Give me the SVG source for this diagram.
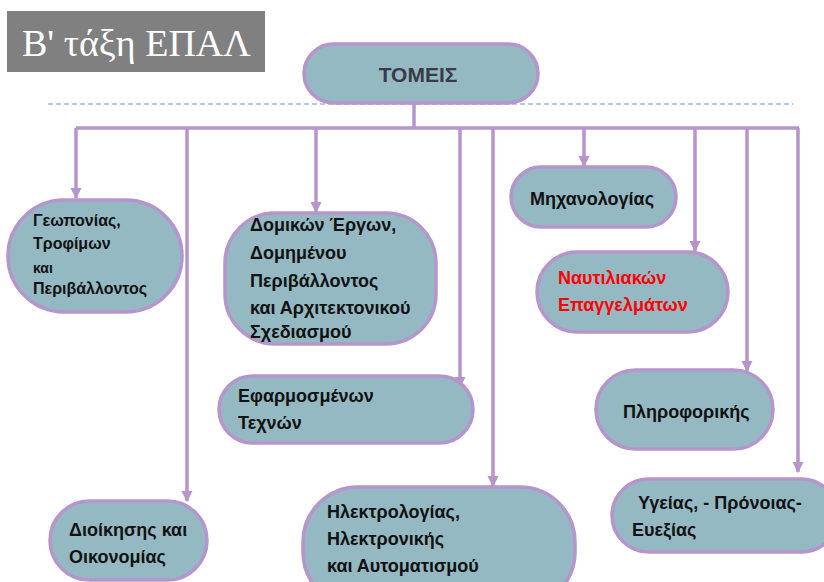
<svg xmlns="http://www.w3.org/2000/svg" width="824" height="582" viewBox="0 0 824 582">
<style>
.node{fill:#94b9c3;stroke:#b595cb;stroke-width:3.5}
.t{font-family:"Liberation Sans",Arial,sans-serif;font-weight:bold;fill:#111;font-size:18px}
.c{fill:none;stroke:#b595cb;stroke-width:3.5}
</style>
<defs>
<marker id="ah" viewBox="0 0 10 10" refX="9" refY="5" markerWidth="3.2" markerHeight="3.2" orient="auto" markerUnits="strokeWidth">
<path d="M0,0 L10,5 L0,10 z" fill="#b595cb"/>
</marker>
</defs>
<rect width="824" height="582" fill="#ffffff"/>
<g id="title">
<rect x="7" y="11" width="258" height="61" fill="#808080"/>
<text x="22" y="56" font-family="'Liberation Serif','Times New Roman',serif" font-size="38" fill="#ffffff">Β' τάξη ΕΠΑΛ</text>
</g>
<line x1="48" y1="104" x2="793" y2="104" stroke="#9bbbdc" stroke-width="1.3" stroke-dasharray="5,3"/>
<g id="connectors">
<path class="c" d="M414,103 V128 M76,128 H799"/>
<path class="c" d="M76,128 V198" marker-end="url(#ah)"/>
<path class="c" d="M187,128 V501" marker-end="url(#ah)"/>
<path class="c" d="M316,128 V212" marker-end="url(#ah)"/>
<path class="c" d="M460,128 V387" marker-end="url(#ah)"/>
<path class="c" d="M493,128 V486" marker-end="url(#ah)"/>
<path class="c" d="M584,128 V166" marker-end="url(#ah)"/>
<path class="c" d="M695,128 V251" marker-end="url(#ah)"/>
<path class="c" d="M747,128 V371" marker-end="url(#ah)"/>
<path class="c" d="M798,128 V472" marker-end="url(#ah)"/>
</g>
<g id="tomeis">
<rect class="node" x="304" y="44" width="234" height="59" rx="29.5"/>
<text x="418" y="82" text-anchor="middle" font-family="'Liberation Sans',Arial,sans-serif" font-weight="bold" font-size="21" fill="#3b3a48">ΤΟΜΕΙΣ</text>
</g>
<g id="geoponias">
<rect class="node" x="8" y="200" width="174" height="112" rx="56"/>
<text class="t" style="font-size:16px"><tspan x="33" y="226">Γεωπονίας,</tspan><tspan x="33" y="249">Τροφίμων</tspan><tspan x="33" y="273" style="font-size:14px">και</tspan><tspan x="33" y="294">Περιβάλλοντος</tspan></text>
</g>
<g id="domikon">
<rect class="node" x="225" y="213" width="211" height="131" rx="50"/>
<text class="t"><tspan x="250" y="231">Δομικών Έργων,</tspan><tspan x="250" y="259">Δομημένου</tspan><tspan x="250" y="287">Περιβάλλοντος</tspan><tspan x="250" y="314">και Αρχιτεκτονικού</tspan><tspan x="250" y="338">Σχεδιασμού</tspan></text>
</g>
<g id="mixanologias">
<rect class="node" x="511" y="167" width="165" height="60" rx="30"/>
<text class="t" x="530" y="205">Μηχανολογίας</text>
</g>
<g id="naftiliakon">
<rect class="node" x="537" y="252" width="191" height="80" rx="40"/>
<text class="t" style="fill:#ff0000"><tspan x="558" y="284">Ναυτιλιακών</tspan><tspan x="558" y="311">Επαγγελμάτων</tspan></text>
</g>
<g id="efarmosmenon">
<rect class="node" x="219" y="376" width="254" height="67" rx="33.5"/>
<text class="t"><tspan x="238" y="402">Εφαρμοσμένων</tspan><tspan x="238" y="429">Τεχνών</tspan></text>
</g>
<g id="pliroforikis">
<rect class="node" x="596" y="370" width="177" height="79" rx="39.5"/>
<text class="t" x="623" y="418">Πληροφορικής</text>
</g>
<g id="dioikisis">
<rect class="node" x="50" y="501" width="157" height="79" rx="39.5"/>
<text class="t"><tspan x="69" y="536">Διοίκησης και</tspan><tspan x="69" y="563">Οικονομίας</tspan></text>
</g>
<g id="ilektrologias">
<rect class="node" x="303" y="487" width="272" height="120" rx="55"/>
<text class="t"><tspan x="327" y="518">Ηλεκτρολογίας,</tspan><tspan x="327" y="545">Ηλεκτρονικής</tspan><tspan x="327" y="572">και Αυτοματισμού</tspan></text>
</g>
<g id="ygeias">
<rect class="node" x="612" y="479" width="226" height="73" rx="36.5"/>
<text class="t"><tspan x="638" y="509">Υγείας, - Πρόνοιας-</tspan><tspan x="632" y="536">Ευεξίας</tspan></text>
</g>
</svg>
